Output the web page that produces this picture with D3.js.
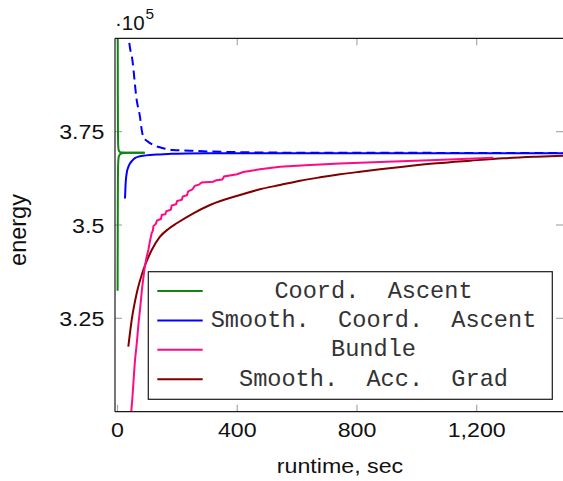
<!DOCTYPE html>
<html>
<head>
<meta charset="utf-8">
<script src="https://cdn.jsdelivr.net/npm/d3@7"></script>
<style>
  html, body { margin: 0; padding: 0; background: #fff; }
  svg { display: block; }
  text { font-family: "Liberation Sans", Arial, sans-serif; fill: #111; }
  .mono { font-family: "Liberation Mono", "Courier New", monospace; white-space: pre; fill: #333; }
</style>
</head>
<body>
<svg id="chart" width="563" height="481"></svg>
<script>
// Energy (x 10^5) against runtime in seconds for four solvers.

// Coordinate ascent: dual (upper) and primal (lower) bounds
const caTime  = [0.3, 1.0, 1.5, 2.5, 4, 7, 12, 20, 40, 91];
const caLower = [3.324, 3.55, 3.64, 3.67, 3.682, 3.688, 3.691, 3.6925, 3.6933, 3.6936];
const caUpper = [4.6, 3.85, 3.75, 3.71, 3.70, 3.696, 3.6945, 3.694, 3.6938, 3.6937];

// Smoothed coordinate ascent: upper bound (dashed) and lower bound (solid)
const scdUpperTime = [30, 34, 38, 50, 64, 75, 81, 86, 100, 120, 150, 185, 242, 300, 376, 500, 700, 1000, 1500];
const scdUpper     = [4.4, 4.15, 4.0, 3.94, 3.835, 3.79, 3.754, 3.7365, 3.724, 3.714, 3.706, 3.701, 3.699, 3.697, 3.6955, 3.694, 3.6935, 3.6932, 3.693];
const scdLowerTime = [25, 27, 30.6, 36, 41.8, 50, 58, 70, 86, 110, 142, 180, 231, 300, 500, 1500];
const scdLower     = [3.571, 3.61, 3.6385, 3.655, 3.665, 3.673, 3.679, 3.683, 3.6856, 3.6877, 3.689, 3.6905, 3.6915, 3.692, 3.692, 3.692];

// Bundle method (staircase progress)
const bundleTime   = [44, 50, 55, 58.5, 64, 70, 75, 82, 89.6, 96, 103, 108, 114, 118, 120, 128, 132, 145, 148, 160, 163, 178, 181, 196, 199, 215, 218, 232, 236, 250, 258, 272, 281, 320, 330, 350, 356, 400, 420, 476, 543, 643, 743, 877, 1066, 1256];
const bundleEnergy = [2.98, 3.04, 3.10, 3.139, 3.18, 3.235, 3.272, 3.33, 3.379, 3.41, 3.433, 3.455, 3.478, 3.485, 3.497, 3.503, 3.512, 3.516, 3.527, 3.529, 3.537, 3.541, 3.552, 3.556, 3.564, 3.568, 3.576, 3.580, 3.590, 3.595, 3.605, 3.608, 3.614, 3.616, 3.620, 3.622, 3.630, 3.636, 3.642, 3.649, 3.656, 3.661, 3.665, 3.669, 3.674, 3.680];

// Smoothed accelerated gradient
const sagTime   = [36.1, 47.4, 64.1, 86.2, 114.3, 142, 170, 197.8, 253.3, 309.1, 409.3, 476.1, 543, 609.8, 676.7, 743.6, 810.4, 877.2, 954.4, 1066.5, 1178.2, 1288.5, 1400.6, 1488.5];
const sagEnergy = [3.1741, 3.2456, 3.3171, 3.3795, 3.433, 3.4687, 3.4895, 3.5046, 3.5313, 3.5536, 3.5804, 3.5956, 3.6071, 3.6186, 3.6277, 3.6358, 3.6427, 3.6492, 3.6561, 3.6652, 3.6722, 3.6786, 3.6829, 3.6856];

const xTicks = [0, 400, 800, 1200];
const xTickLabels = ["0", "400", "800", "1,200"];
const yTicks = [3.25, 3.5, 3.75];
const yTickLabels = ["3.25", "3.5", "3.75"];

const legendLabels = ["Coord.  Ascent", "Smooth.  Coord.  Ascent", "Bundle", "Smooth.  Acc.  Grad"];
const legendColors = ["#0f860f", "#0000ff", "#ff0a85", "#800000"];

const svg = d3.select("#chart");
const L = 115, R = 563, T = 38.3, B = 411.7;

const x = d3.scaleLinear().domain([-8.4, 1488.4]).range([L, R]);
const y = d3.scaleLinear().domain([3.0, 4.0]).range([B, T]);

const SX = 1.16; // horizontal widening of the sans labels

function label(g, px, py, str, size, anchor, sx) {
  return g.append("g")
    .attr("transform", `translate(${px},${py}) scale(${sx},1)`)
    .append("text")
    .attr("font-size", size)
    .attr("text-anchor", anchor)
    .text(str);
}

// clip region for the curves
svg.append("defs").append("clipPath").attr("id", "plot")
  .append("rect").attr("x", L).attr("y", T).attr("width", R - L).attr("height", B - T);

// inward tick marks on all four sides
const tickG = svg.append("g").attr("stroke", "#a8a8a8").attr("stroke-width", 1.2);
xTicks.forEach(t => {
  tickG.append("line").attr("x1", x(t)).attr("x2", x(t)).attr("y1", B).attr("y2", B - 7);
  tickG.append("line").attr("x1", x(t)).attr("x2", x(t)).attr("y1", T).attr("y2", T + 7);
});
yTicks.forEach(v => {
  tickG.append("line").attr("y1", y(v)).attr("y2", y(v)).attr("x1", L).attr("x2", L + 7);
  tickG.append("line").attr("y1", y(v)).attr("y2", y(v)).attr("x1", R).attr("x2", R - 7);
});

// curves
const curves = svg.append("g").attr("clip-path", "url(#plot)").attr("fill", "none").attr("stroke-width", 2);
function series(times, vals) { return times.map((t, i) => [t, vals[i]]); }
const smooth = d3.line().x(d => x(d[0])).y(d => y(d[1])).curve(d3.curveMonotoneX);
const straight = d3.line().x(d => x(d[0])).y(d => y(d[1]));

curves.append("path").attr("d", smooth(series(sagTime, sagEnergy))).attr("stroke", legendColors[3]);
curves.append("path").attr("d", straight(series(bundleTime, bundleEnergy))).attr("stroke", legendColors[2]);
curves.append("path").attr("d", smooth(series(scdUpperTime, scdUpper))).attr("stroke", legendColors[1]).attr("stroke-dasharray", "9 5");
curves.append("path").attr("d", smooth(series(scdLowerTime, scdLower))).attr("stroke", legendColors[1]);
curves.append("path").attr("d", smooth(series(caTime, caUpper))).attr("stroke", legendColors[0]);
curves.append("path").attr("d", smooth(series(caTime, caLower))).attr("stroke", legendColors[0]);

// axis frame (the right edge runs off the canvas)
const frame = svg.append("g").attr("stroke", "#1a1a1a").attr("stroke-width", 1.2);
frame.append("line").attr("x1", L).attr("x2", L).attr("y1", T).attr("y2", B);
frame.append("line").attr("x1", L).attr("x2", R).attr("y1", B).attr("y2", B);
frame.append("line").attr("x1", L).attr("x2", R).attr("y1", T).attr("y2", T);

// tick labels
xTicks.forEach((t, i) => label(svg, x(t), 437, xTickLabels[i], 20, "middle", SX));
yTicks.forEach((v, i) => label(svg, 104.3, y(v) + 7.8, yTickLabels[i], 20, "end", SX));

// axis titles
label(svg, 340, 473, "runtime, sec", 20, "middle", SX);
svg.append("text")
  .attr("transform", "translate(26,230) rotate(-90)")
  .attr("font-size", 23.5)
  .attr("text-anchor", "middle")
  .text("energy");

// scale factor
label(svg, 115, 30, "\u00b710", 20.5, "start", 1);
label(svg, 145.5, 19, "5", 14, "start", 1.1);

// legend
const lg = svg.append("g");
lg.append("rect").attr("x", 148.3).attr("y", 271.7).attr("width", 404).attr("height", 127.6)
  .attr("fill", "#fff").attr("stroke", "#1a1a1a").attr("stroke-width", 1.2);
legendLabels.forEach((name, i) => {
  const cy = 291 + i * 29.4;
  lg.append("line").attr("x1", 157.3).attr("x2", 202.7).attr("y1", cy).attr("y2", cy)
    .attr("stroke", legendColors[i]).attr("stroke-width", 2);
  lg.append("text").attr("class", "mono")
    .attr("x", 373.5).attr("y", cy + 6.5)
    .attr("font-size", 23.6)
    .attr("text-anchor", "middle")
    .text(name);
});
</script>
</body>
</html>
